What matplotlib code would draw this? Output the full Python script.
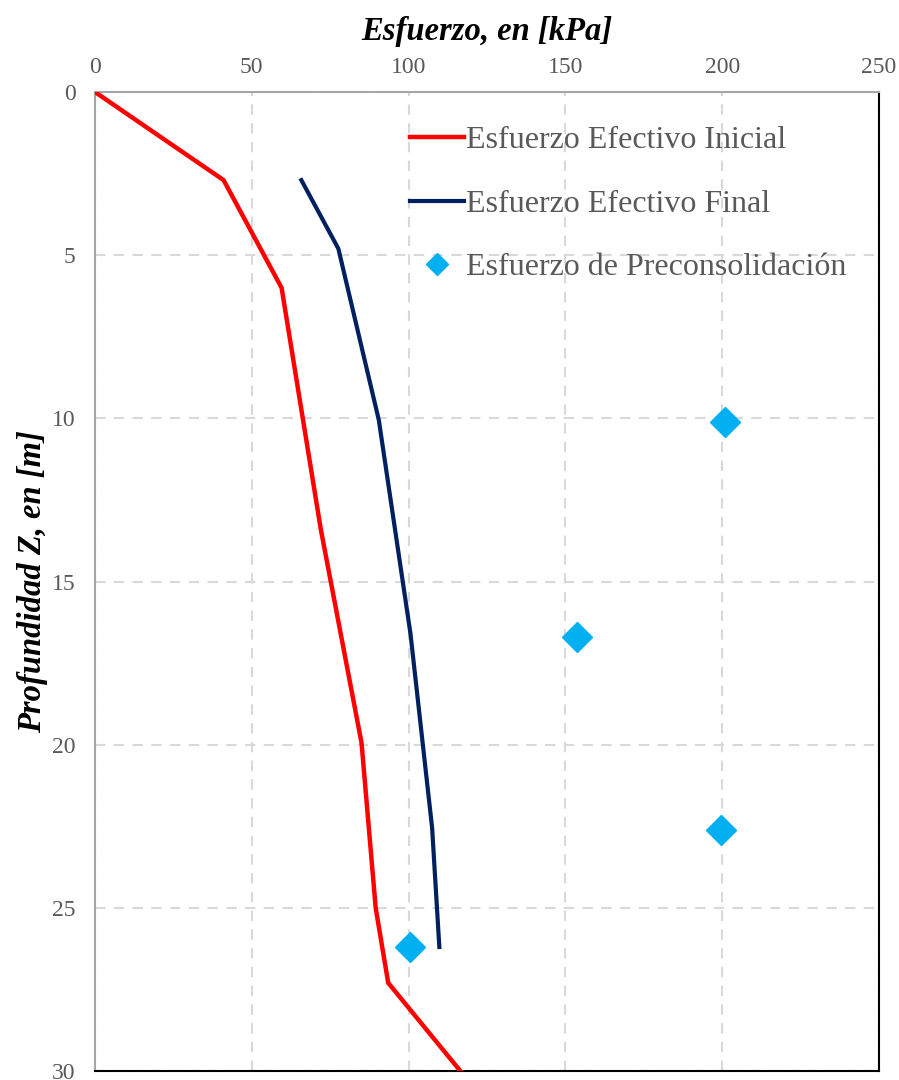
import matplotlib
matplotlib.use("Agg")
import matplotlib.pyplot as plt

plt.rcParams['font.family'] = ['Liberation Serif', 'DejaVu Serif']

ini_x = [0, 41, 59.5, 72, 85, 89.5, 93.5, 116.5]
ini_z = [0, 2.7, 6.0, 13.4, 19.95, 25.0, 27.3, 30.0]
fin_x = [65.8, 77.6, 90.5, 100.6, 107.5, 109.8]
fin_z = [2.7, 4.8, 10.05, 16.6, 22.55, 26.2]
pre_x = [200.8, 153.6, 199.6, 100.6]
pre_z = [10.1, 16.7, 22.6, 26.2]
xticks = [0, 50, 100, 150, 200, 250]
yticks = [0, 5, 10, 15, 20, 25, 30]

fig = plt.figure(figsize=(8.99, 10.8), dpi=100)
ax = fig.add_axes([95/899, 1-1071/1080, (879-95)/899, (1071-92)/1080])

ax.plot(ini_x, ini_z, color='#ff0000', lw=3.2, label='Esfuerzo Efectivo Inicial', zorder=3)
ax.plot(fin_x, fin_z, color='#002060', lw=3, label='Esfuerzo Efectivo Final', zorder=3)
ax.plot(pre_x, pre_z, ls='none', marker='D', ms=15, color='#00b0f0', label='Esfuerzo de Preconsolidación', zorder=4)

ax.set_xlim(0, 250)
ax.set_ylim(30, 0)
ax.set_xticks(xticks)
ax.set_yticks(yticks)
ax.xaxis.tick_top()
ax.tick_params(length=0, labelsize=17, labelcolor='#595959')
ax.tick_params(axis='x', pad=10)
ax.tick_params(axis='y', pad=14)
ax.grid(True, ls=(0, (5, 4)), color='#d9d9d9', lw=1.5)
ax.set_axisbelow(True)

for s in ['left', 'top']:
    ax.spines[s].set_color('#a6a6a6')
    ax.spines[s].set_linewidth(1.5)
for s in ['right', 'bottom']:
    ax.spines[s].set_color('black')
    ax.spines[s].set_linewidth(1.5)

ax.set_xlabel('Esfuerzo, en [kPa]', fontsize=23.5, fontweight='bold', style='italic', labelpad=12)
ax.xaxis.set_label_position('top')
ax.set_ylabel('Profundidad Z, en [m]', fontsize=23.5, fontweight='bold', style='italic', labelpad=3)

leg = ax.legend(loc='upper left', bbox_to_anchor=((410-95)/784, 1-(126-92)/979), frameon=False, fontsize=23,
                labelcolor='#595959', handlelength=1.7, handletextpad=0.05, labelspacing=1.07,
                borderaxespad=0, borderpad=0, markerscale=0.75)
leg.set_zorder(5)

fig.savefig('out.png', dpi=100)
